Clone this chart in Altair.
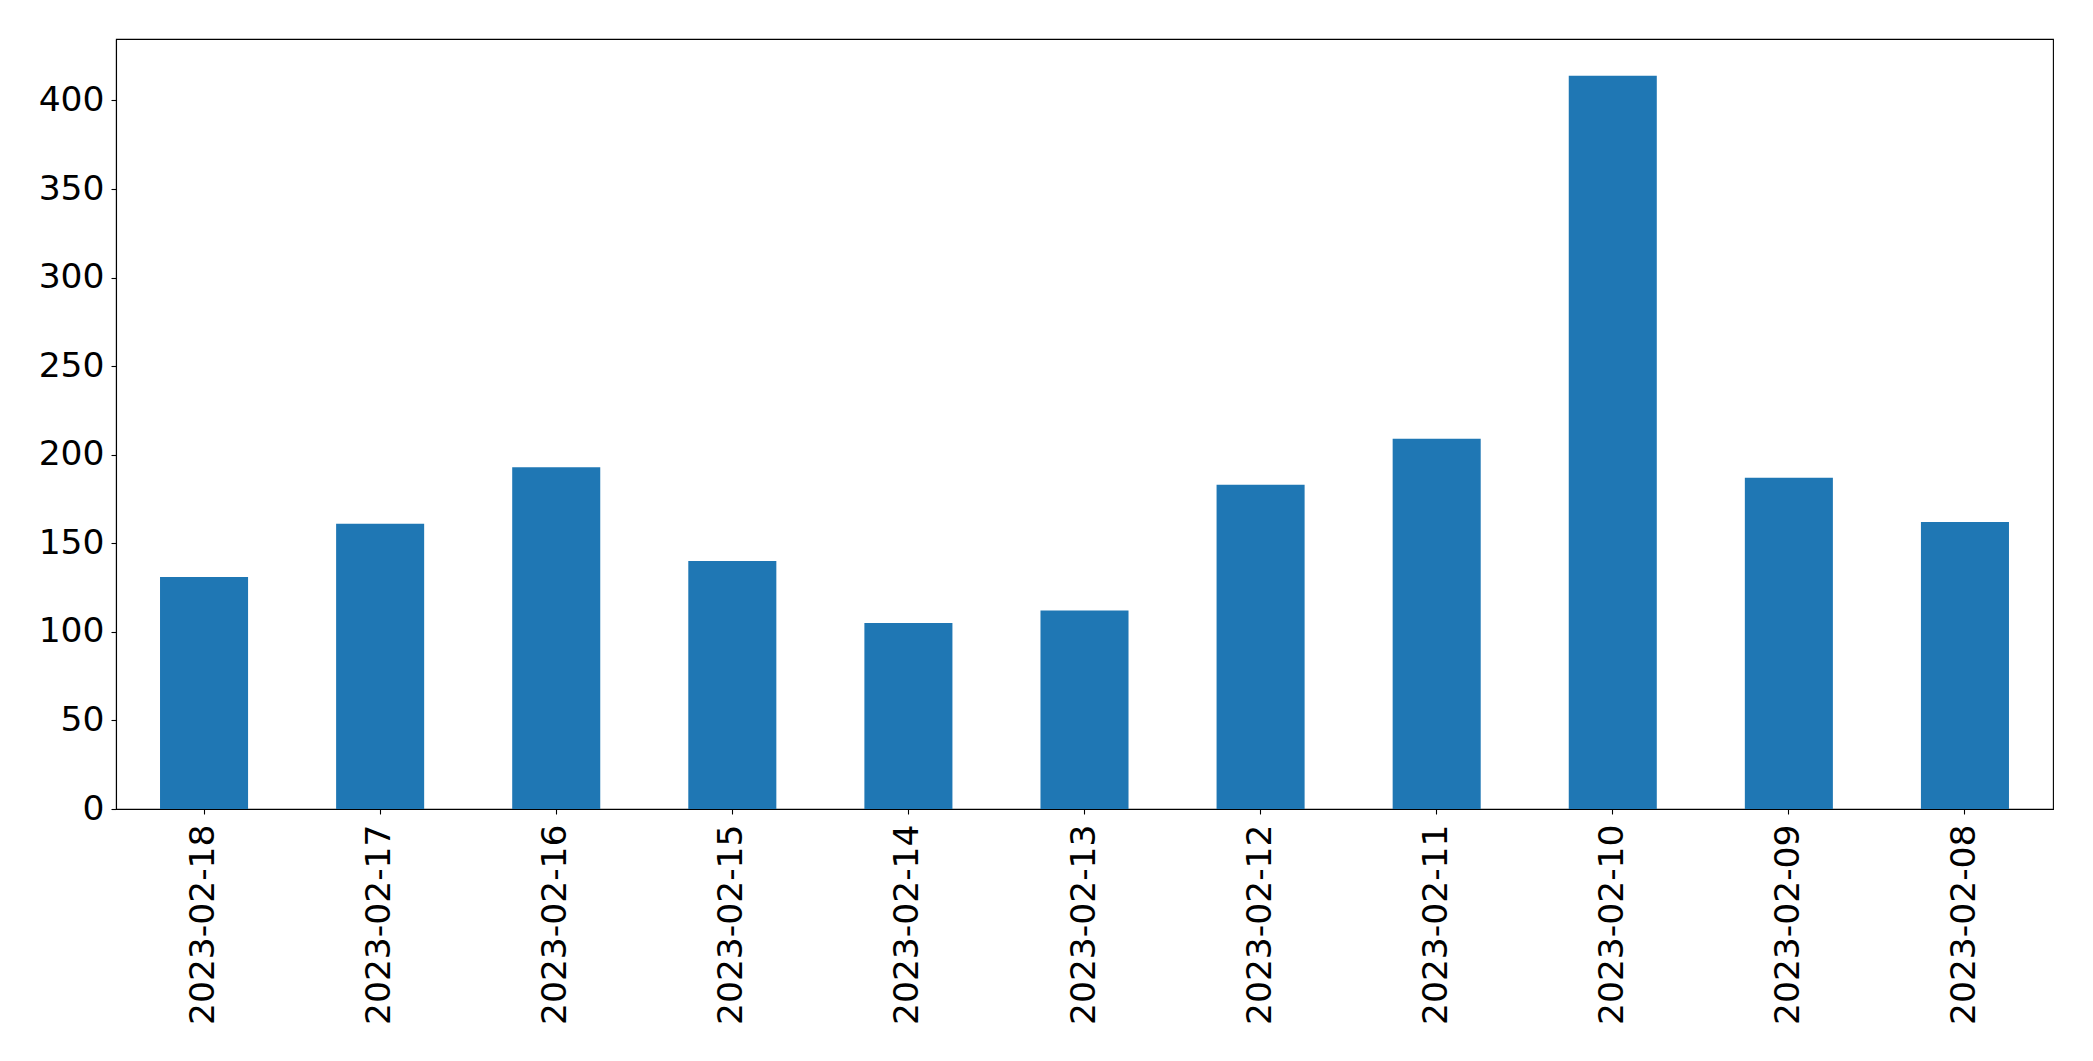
import altair as alt
import pandas as pd

dates = ["2023-02-18", "2023-02-17", "2023-02-16", "2023-02-15", "2023-02-14",
         "2023-02-13", "2023-02-12", "2023-02-11", "2023-02-10", "2023-02-09",
         "2023-02-08"]
counts = [131, 161, 193, 140, 105, 112, 183, 209, 414, 187, 162]
y_ticks = [0, 50, 100, 150, 200, 250, 300, 350, 400]

df = pd.DataFrame({"date": dates, "count": counts})

FONT = "DejaVu Sans"
FS = 34.5

chart = (
    alt.Chart(df)
    .mark_bar(color="#1f77b4")
    .encode(
        x=alt.X(
            "date:N",
            sort=dates,
            title=None,
            scale=alt.Scale(paddingInner=0.5, paddingOuter=0.25),
            axis=alt.Axis(
                labelAngle=270,
                labelFont=FONT,
                labelFontSize=FS,
                labelColor="black",
                labelLimit=0,
                tickColor="black",
                tickSize=5,
                tickWidth=1.1,
                labelPadding=10,
                domain=True,
                domainColor="black",
                domainWidth=1.1,
                grid=False,
            ),
        ),
        y=alt.Y(
            "count:Q",
            title=None,
            scale=alt.Scale(domain=[0, 434.7], nice=False, zero=True),
            axis=alt.Axis(
                values=y_ticks,
                labelFont=FONT,
                labelFontSize=FS,
                labelColor="black",
                tickColor="black",
                tickSize=5,
                tickWidth=1.1,
                labelPadding=7,
                domain=True,
                domainColor="black",
                domainWidth=1.1,
                grid=False,
            ),
        ),
    )
    .properties(
        width=1937,
        height=770,
        background="white",
        autosize=alt.AutoSizeParams(type="none"),
        padding={"left": 116, "top": 39, "right": 40, "bottom": 252},
    )
    .configure_view(stroke="#000000", strokeWidth=1.1, strokeOpacity=1)
)

chart.save("out.html", embed_options={"renderer": "svg", "actions": False})
